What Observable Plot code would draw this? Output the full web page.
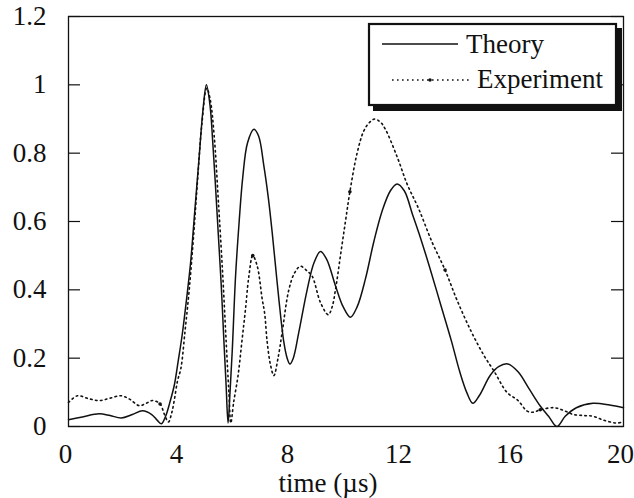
<!DOCTYPE html>
<html>
<head>
<meta charset="utf-8">
<script src="https://cdn.jsdelivr.net/npm/d3@7"></script>
<script src="https://cdn.jsdelivr.net/npm/@observablehq/plot@0.6"></script>
<style>
  html, body { margin: 0; padding: 0; background: #fff; }
  #chart { width: 634px; height: 498px; }
</style>
</head>
<body>
<div id="chart"></div>
<script>
// Theory curve (time in µs, normalized amplitude)
const theoryT = [0, 0.5, 1.1, 1.5, 1.9, 2.3, 2.67, 3.0, 3.2, 3.35, 3.5, 3.65, 3.81, 3.95, 4.1, 4.25, 4.4, 4.55, 4.7, 4.85, 4.97, 5.1, 5.2, 5.3, 5.4, 5.5, 5.6, 5.68, 5.75,
  5.82, 5.9, 6.02, 6.15, 6.28, 6.45, 6.68, 6.85, 7.04, 7.2, 7.34, 7.46, 7.58, 7.76, 7.88, 7.98, 8.1, 8.3, 8.6, 8.85, 9.08, 9.3, 9.62, 9.9, 10.16, 10.4, 10.7,
  11.0, 11.3, 11.6, 11.84, 12.1, 12.4, 12.62, 13.0, 13.4, 13.8, 14.1, 14.35, 14.57, 14.8, 15.2, 15.5, 15.83, 16.2, 16.6, 17.0, 17.3, 17.6, 17.9, 18.3, 18.9, 19.5, 20];
const theoryV = [0.020, 0.028, 0.037, 0.032, 0.025, 0.035, 0.046, 0.035, 0.018, 0.008, 0.030, 0.070, 0.120, 0.190, 0.270, 0.370, 0.480, 0.630, 0.780, 0.930, 1.000, 0.940, 0.830, 0.700, 0.560, 0.420, 0.250, 0.120, 0.010,
  0.100, 0.220, 0.440, 0.600, 0.730, 0.830, 0.870, 0.850, 0.763, 0.670, 0.568, 0.470, 0.373, 0.247, 0.200, 0.183, 0.200, 0.276, 0.400, 0.480, 0.512, 0.490, 0.412, 0.350, 0.320, 0.350, 0.432,
  0.540, 0.630, 0.690, 0.710, 0.690, 0.620, 0.568, 0.470, 0.360, 0.250, 0.160, 0.100, 0.068, 0.090, 0.150, 0.175, 0.183, 0.160, 0.110, 0.060, 0.030, 0.000, 0.030, 0.055, 0.068, 0.063, 0.055];

// Experiment curve
const expT = [0, 0.32, 0.7, 1.1, 1.5, 1.89, 2.2, 2.55, 2.8, 3.03, 3.3, 3.45, 3.6, 3.72, 3.81, 3.93, 4.05, 4.2, 4.35, 4.5, 4.65, 4.8, 4.98, 5.1, 5.25, 5.4, 5.56, 5.68, 5.78, 5.85,
  5.95, 6.11, 6.25, 6.38, 6.5, 6.64, 6.8, 6.98, 7.07, 7.16, 7.28, 7.4, 7.55, 7.7, 7.94, 8.15, 8.36, 8.6, 8.78, 9.08, 9.36, 9.5, 9.62, 9.8, 9.98, 10.14, 10.4, 10.64, 10.85, 11.04, 11.25, 11.42, 11.84,
  12.2, 12.62, 13.1, 13.57, 14.0, 14.5, 14.97, 15.35, 15.8, 16.2, 16.53, 16.76, 17.0, 17.5, 17.9, 18.2, 18.57, 18.9, 19.3, 19.77, 19.9];
const expV = [0.070, 0.090, 0.082, 0.076, 0.083, 0.090, 0.080, 0.061, 0.068, 0.076, 0.066, 0.037, 0.013, 0.040, 0.076, 0.134, 0.170, 0.280, 0.400, 0.550, 0.720, 0.880, 0.990, 0.960, 0.850, 0.660, 0.440, 0.250, 0.100, 0.010,
  0.070, 0.149, 0.250, 0.345, 0.440, 0.500, 0.470, 0.373, 0.330, 0.247, 0.180, 0.149, 0.200, 0.276, 0.400, 0.450, 0.469, 0.455, 0.440, 0.363, 0.327, 0.350, 0.400, 0.500, 0.600, 0.687, 0.800, 0.865, 0.890, 0.900, 0.890, 0.870, 0.790,
  0.710, 0.637, 0.540, 0.458, 0.370, 0.280, 0.208, 0.160, 0.100, 0.076, 0.045, 0.042, 0.049, 0.055, 0.045, 0.035, 0.032, 0.030, 0.018, 0.010, 0.012];

// Marker dots on the experiment curve
const expMarkT = [3.3, 6.64, 10.14, 13.57, 17.0];
const expMarkV = [0.066, 0.50, 0.687, 0.458, 0.049];

const xTicks = [0, 4, 8, 12, 16, 20];
const yTicks = [0, 0.2, 0.4, 0.6, 0.8, 1, 1.2];
const xLabel = "time (µs)";
const seriesNames = ["Theory", "Experiment"];

const theory = theoryT.map((t, i) => ({t, v: theoryV[i]}));
const experiment = expT.map((t, i) => ({t, v: expV[i]}));
const marks = expMarkT.map((t, i) => ({t, v: expMarkV[i]}));

const W = 634, H = 498, mL = 68, mR = 11, mT = 16, mB = 72;
const innerW = W - mL - mR;
const serif = "'Liberation Serif', 'DejaVu Serif', serif";
const fmt = d => String(+d.toFixed(1));

const chart = Plot.plot({
  width: W, height: H,
  marginLeft: mL, marginRight: mR, marginTop: mT, marginBottom: mB,
  x: {domain: [0, 20]},
  y: {domain: [0, 1.2]},
  style: {fontFamily: serif, fontSize: "27px", background: "#fff", color: "#111"},
  marks: [
    Plot.axisX(xTicks, {tickSize: 0, tickPadding: 17, dx: -3, label: null, fontSize: 27, tickFormat: fmt}),
    Plot.axisY(yTicks, {tickSize: 0, tickPadding: 22, label: null, fontSize: 27, tickFormat: fmt}),
    Plot.tickY(yTicks, {y: d => d, insetRight: innerW - 12, stroke: "#111", strokeWidth: 1.2}),
    Plot.tickY(yTicks, {y: d => d, insetLeft: innerW - 12, stroke: "#111", strokeWidth: 1.2}),
    Plot.line(experiment, {x: "t", y: "v", curve: "catmull-rom", stroke: "#111", strokeWidth: 1.6, strokeDasharray: "1.6,3.4"}),
    Plot.dot(marks, {x: "t", y: "v", r: 1.8, fill: "#111", stroke: "none"}),
    Plot.line(theory, {x: "t", y: "v", curve: "catmull-rom", stroke: "#111", strokeWidth: 1.5}),
    Plot.frame({stroke: "#111", strokeWidth: 1.3})
  ]
});

const svg = d3.select(chart);
// x-axis title
svg.append("text")
  .attr("x", 328).attr("y", 492)
  .attr("text-anchor", "middle")
  .attr("font-family", serif).attr("font-size", 27).attr("fill", "#111")
  .text(xLabel);

// Legend box with drop shadow
const lg = svg.append("g").attr("text-anchor", "start");
lg.append("rect").attr("x", 373).attr("y", 28).attr("width", 249).attr("height", 83).attr("fill", "#111");
lg.append("rect").attr("x", 369).attr("y", 24).attr("width", 247).attr("height", 81)
  .attr("fill", "#fff").attr("stroke", "#111").attr("stroke-width", 2.2);
lg.append("line").attr("x1", 382).attr("x2", 458).attr("y1", 44).attr("y2", 44)
  .attr("stroke", "#111").attr("stroke-width", 1.5);
lg.append("text").attr("x", 466).attr("y", 53).attr("text-anchor", "start")
  .attr("font-family", serif).attr("font-size", 27).attr("fill", "#111").text(seriesNames[0]);
lg.append("line").attr("x1", 392).attr("x2", 469).attr("y1", 80).attr("y2", 80)
  .attr("stroke", "#111").attr("stroke-width", 1.6).attr("stroke-dasharray", "1.6,3.4");
lg.append("circle").attr("cx", 430).attr("cy", 80).attr("r", 1.8).attr("fill", "#111");
lg.append("text").attr("x", 477).attr("y", 88).attr("text-anchor", "start")
  .attr("font-family", serif).attr("font-size", 27).attr("fill", "#111").text(seriesNames[1]);

document.getElementById("chart").appendChild(chart);
</script>
</body>
</html>
